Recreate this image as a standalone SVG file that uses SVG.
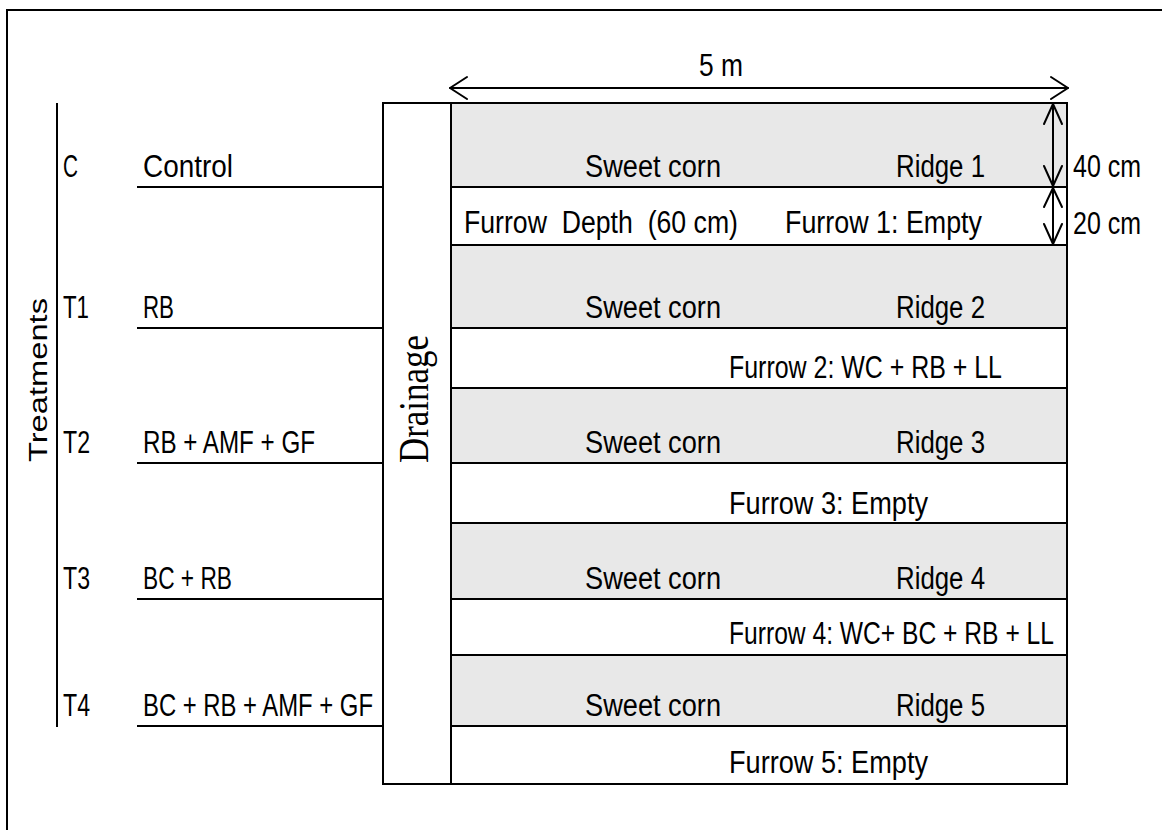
<svg xmlns="http://www.w3.org/2000/svg" width="1162" height="830" viewBox="0 0 1162 830">
<style>
  .t { font-family: "Liberation Sans", Arial, sans-serif; font-size: 31px; fill: #000; }
  .ln { stroke: #000; stroke-width: 2; fill: none; }
  .ridge { fill: #e8e8e8; stroke: #000; stroke-width: 2; }
  .furrow { fill: #fff; stroke: #000; stroke-width: 2; }
  .arr { stroke: #000; stroke-width: 2; fill: none; stroke-linecap: round; stroke-linejoin: round; }
</style>
<rect width="1162" height="830" fill="#fff"/>
<g id="frame">
  <path class="ln" d="M7,830 V10 H1162" stroke-width="2.5"/>
</g>

<g id="drainage">
  <rect class="furrow" x="383" y="103" width="68" height="681"/>
  <text class="t" transform="translate(428,399) rotate(-90)" text-anchor="middle" textLength="128" lengthAdjust="spacingAndGlyphs" style="font-family:'Liberation Serif','Times New Roman',serif;font-size:42px">Drainage</text>
</g>

<g id="ridge1">
  <rect class="ridge" x="451" y="103" width="616" height="84"/>
  <text class="t" x="585" y="177" textLength="136" lengthAdjust="spacingAndGlyphs">Sweet corn</text>
  <text class="t" x="896" y="177" textLength="89" lengthAdjust="spacingAndGlyphs">Ridge 1</text>
</g>
<g id="furrow1">
  <rect class="furrow" x="451" y="187" width="616" height="58"/>
  <text class="t" x="464" y="233" textLength="274" lengthAdjust="spacingAndGlyphs" xml:space="preserve">Furrow  Depth  (60 cm)</text>
  <text class="t" x="785" y="233" textLength="197" lengthAdjust="spacingAndGlyphs">Furrow 1: Empty</text>
</g>
<g id="ridge2">
  <rect class="ridge" x="451" y="245" width="616" height="83"/>
  <text class="t" x="585" y="318" textLength="136" lengthAdjust="spacingAndGlyphs">Sweet corn</text>
  <text class="t" x="896" y="318" textLength="89" lengthAdjust="spacingAndGlyphs">Ridge 2</text>
</g>
<g id="furrow2">
  <rect class="furrow" x="451" y="328" width="616" height="60"/>
  <text class="t" x="729" y="378" textLength="273" lengthAdjust="spacingAndGlyphs">Furrow 2: WC + RB + LL</text>
</g>
<g id="ridge3">
  <rect class="ridge" x="451" y="388" width="616" height="75"/>
  <text class="t" x="585" y="453" textLength="136" lengthAdjust="spacingAndGlyphs">Sweet corn</text>
  <text class="t" x="896" y="453" textLength="89" lengthAdjust="spacingAndGlyphs">Ridge 3</text>
</g>
<g id="furrow3">
  <rect class="furrow" x="451" y="463" width="616" height="60"/>
  <text class="t" x="729" y="514" textLength="199" lengthAdjust="spacingAndGlyphs">Furrow 3: Empty</text>
</g>
<g id="ridge4">
  <rect class="ridge" x="451" y="523" width="616" height="76"/>
  <text class="t" x="585" y="589" textLength="136" lengthAdjust="spacingAndGlyphs">Sweet corn</text>
  <text class="t" x="896" y="589" textLength="89" lengthAdjust="spacingAndGlyphs">Ridge 4</text>
</g>
<g id="furrow4">
  <rect class="furrow" x="451" y="599" width="616" height="56"/>
  <text class="t" x="729" y="644" textLength="325" lengthAdjust="spacingAndGlyphs">Furrow 4: WC+ BC + RB + LL</text>
</g>
<g id="ridge5">
  <rect class="ridge" x="451" y="655" width="616" height="71"/>
  <text class="t" x="585" y="716" textLength="136" lengthAdjust="spacingAndGlyphs">Sweet corn</text>
  <text class="t" x="896" y="716" textLength="89" lengthAdjust="spacingAndGlyphs">Ridge 5</text>
</g>
<g id="furrow5">
  <rect class="furrow" x="451" y="726" width="616" height="58"/>
  <text class="t" x="729" y="773" textLength="199" lengthAdjust="spacingAndGlyphs">Furrow 5: Empty</text>
</g>

<g id="treatments">
  <line class="ln" x1="57" y1="103" x2="57" y2="727"/>
  <text class="t" transform="translate(47,380) rotate(-90)" text-anchor="middle" textLength="164" lengthAdjust="spacingAndGlyphs" style="font-size:26px">Treatments</text>
</g>
<g id="tC">
  <text class="t" x="63" y="177" textLength="15" lengthAdjust="spacingAndGlyphs">C</text>
  <text class="t" x="143" y="177" textLength="90" lengthAdjust="spacingAndGlyphs">Control</text>
</g>
<g id="tT1">
  <text class="t" x="63" y="318" textLength="26" lengthAdjust="spacingAndGlyphs">T1</text>
  <text class="t" x="143" y="318" textLength="31" lengthAdjust="spacingAndGlyphs">RB</text>
</g>
<g id="tT2">
  <text class="t" x="63" y="453" textLength="27" lengthAdjust="spacingAndGlyphs">T2</text>
  <text class="t" x="143" y="453" textLength="172" lengthAdjust="spacingAndGlyphs">RB + AMF + GF</text>
</g>
<g id="tT3">
  <text class="t" x="63" y="589" textLength="27" lengthAdjust="spacingAndGlyphs">T3</text>
  <text class="t" x="143" y="589" textLength="89" lengthAdjust="spacingAndGlyphs">BC + RB</text>
</g>
<g id="tT4">
  <text class="t" x="63" y="716" textLength="27" lengthAdjust="spacingAndGlyphs">T4</text>
  <text class="t" x="143" y="716" textLength="230" lengthAdjust="spacingAndGlyphs">BC + RB + AMF + GF</text>
</g>

<g id="connectors">
  <line class="ln" x1="137" y1="187" x2="383" y2="187"/>
  <line class="ln" x1="137" y1="328" x2="383" y2="328" stroke-width="2.5"/>
  <line class="ln" x1="137" y1="463" x2="383" y2="463"/>
  <line class="ln" x1="137" y1="599" x2="383" y2="599"/>
  <line class="ln" x1="137" y1="726" x2="383" y2="726"/>
  <!-- 5 m dimension -->
  <line class="arr" x1="450" y1="88" x2="1068" y2="88"/>
  <path class="arr" d="M467,77 L450,88 L467,99"/>
  <path class="arr" d="M1051,77 L1068,88 L1051,99"/>
  <!-- 40 cm dimension -->
  <line class="arr" x1="1053" y1="104" x2="1053" y2="186"/>
  <path class="arr" d="M1044,124 L1053,104 L1062,124"/>
  <path class="arr" d="M1044,166 L1053,186 L1062,166"/>
  <!-- 20 cm dimension -->
  <line class="arr" x1="1053" y1="188" x2="1053" y2="244"/>
  <path class="arr" d="M1044,207 L1053,188 L1062,207"/>
  <path class="arr" d="M1044,224 L1053,244 L1062,224"/>
</g>
<g id="dim-labels">
  <text class="t" x="699" y="76" textLength="44" lengthAdjust="spacingAndGlyphs">5 m</text>
  <text class="t" x="1073" y="177" textLength="68" lengthAdjust="spacingAndGlyphs">40 cm</text>
  <text class="t" x="1073" y="234" textLength="68" lengthAdjust="spacingAndGlyphs">20 cm</text>
</g>
</svg>
